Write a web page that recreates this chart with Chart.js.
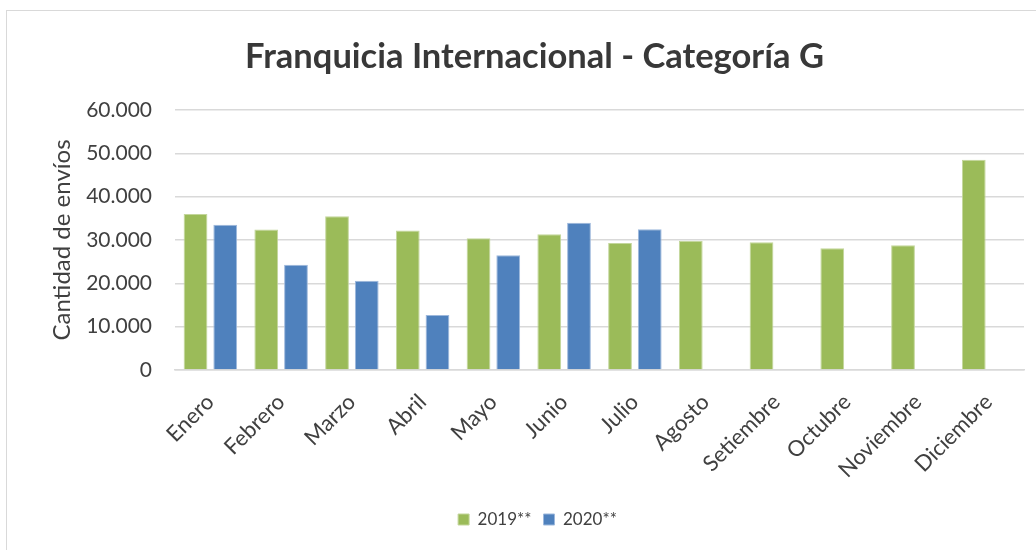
<!DOCTYPE html>
<html>
<head>
<meta charset="utf-8">
<script src="https://cdn.jsdelivr.net/npm/chart.js@4.4.1/dist/chart.umd.min.js"></script>
<style>
  html, body { margin: 0; padding: 0; background: #fff; overflow: hidden; }
  #frame { position: absolute; left: 6px; top: 10px; width: 1100px; height: 600px; border: 1px solid #d9d9d9; box-sizing: border-box; }
  #wrap { position: absolute; left: 0; top: 0; width: 1036px; height: 550px; }
</style>
</head>
<body>
<div id="frame"></div>
<div id="wrap"><canvas id="c" width="1036" height="550"></canvas></div>
<script>
const chartTitle = "Franquicia Internacional - Categoría G";
const yAxisTitle = "Cantidad de envíos";
const categories = ["Enero","Febrero","Marzo","Abril","Mayo","Junio","Julio","Agosto","Setiembre","Octubre","Noviembre","Diciembre"];
const seriesNames = ["2019**","2020**"];
const values2019 = [36000, 32400, 35500, 32200, 30400, 31300, 29300, 29800, 29500, 28100, 28800, 48500];
const values2020 = [33500, 24300, 20600, 12700, 26500, 34000, 32500, null, null, null, null, null];
const yTicks = [0, 10000, 20000, 30000, 40000, 50000, 60000];

const FONT = "Lato, 'Open Sans', sans-serif";
const fmt = v => v === 0 ? "0" : v.toLocaleString("de-DE");

const shiftBoxes = {
  id: "shiftBoxes",
  afterLayout(chart) {
    if (chart.legend) { chart.legend.left += 22; chart.legend.right += 22; }
    if (chart.titleBlock) { chart.titleBlock.left += 19; chart.titleBlock.right += 19; }
  }
};

new Chart(document.getElementById("c"), {
  type: "bar",
  data: {
    labels: categories,
    datasets: [
      { label: seriesNames[0], data: values2019, backgroundColor: "#9BBB59", borderColor: "#c3d69b", borderWidth: 1 },
      { label: seriesNames[1], data: values2020, backgroundColor: "#4F81BD", borderColor: "#9db8dc", borderWidth: 1 }
    ]
  },
  plugins: [shiftBoxes],
  options: {
    responsive: false,
    animation: false,
    devicePixelRatio: 1,
    layout: { padding: { left: 7, right: 12, top: 0, bottom: 12 } },
    datasets: { bar: { categoryPercentage: 0.84, barPercentage: 0.8 } },
    plugins: {
      title: {
        display: true, text: chartTitle, color: "#383838",
        font: { family: FONT, size: 34.5, weight: "bold" },
        padding: { top: 36, bottom: 32.6 }
      },
      legend: {
        position: "bottom",
        labels: { color: "#404040", font: { family: FONT, size: 17 }, boxWidth: 11, boxHeight: 11, padding: 12 }
      },
      tooltip: { enabled: false }
    },
    scales: {
      x: {
        grid: { display: false },
        border: { display: true, color: "#d9d9d9", width: 1.5 },
        ticks: { color: "#404040", font: { family: FONT, size: 22 }, maxRotation: 45, minRotation: 45, padding: 11 },
        afterFit: s => { s.height = 129; }
      },
      y: {
        min: 0, max: 60000,
        afterBuildTicks: s => { s.ticks = yTicks.map(v => ({ value: v })); },
        grid: { color: "#d9d9d9", lineWidth: 1.5, drawTicks: false },
        border: { display: false },
        ticks: { color: "#404040", font: { family: FONT, size: 21 }, padding: 23, callback: v => fmt(v) },
        title: { display: true, text: yAxisTitle, color: "#404040", font: { family: FONT, size: 24 }, padding: { top: 41, bottom: 0 } },
        afterFit: s => { s.width = 168; }
      }
    }
  }
});
</script>
</body>
</html>
